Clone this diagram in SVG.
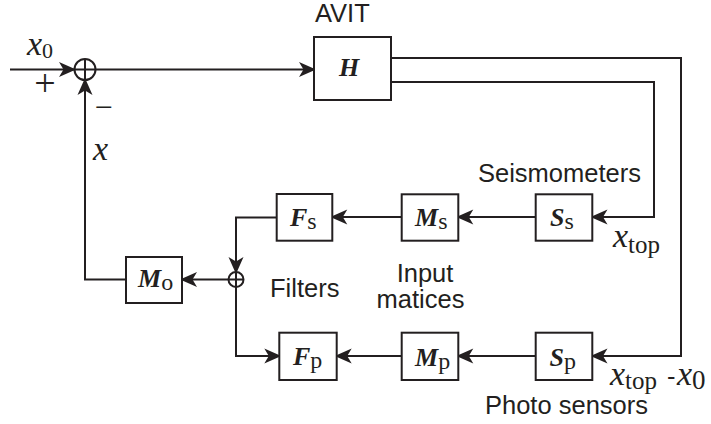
<svg xmlns="http://www.w3.org/2000/svg" width="711" height="424" viewBox="0 0 711 424">
<defs>
<marker id="ah" viewBox="-19 -8 20 16" refX="-2" refY="0" markerWidth="20" markerHeight="16" markerUnits="userSpaceOnUse" orient="auto">
<path d="M0,0 L-17,-7.5 L-12.5,0 L-17,7.5 Z" fill="#231f20"/>
</marker>
<style>
.box{fill:#fff;stroke:#231f20;stroke-width:2}
.ln{fill:none;stroke:#231f20;stroke-width:2}
.arr{fill:none;stroke:#231f20;stroke-width:2;marker-end:url(#ah)}
.sans{font-family:"Liberation Sans",Arial,sans-serif;font-size:25.5px;fill:#231f20}
.ser{font-family:"Liberation Serif","Times New Roman",serif;fill:#231f20}
.bi{font-weight:bold;font-style:italic;font-size:26px}
.sub{font-size:24px}
.it{font-style:italic;font-size:34px}
</style>
</defs>
<rect width="711" height="424" fill="#fff"/>

<g id="connectors">
<path class="arr" d="M10,69.5 H74"/>
<path class="arr" d="M96,69.5 H314"/>
<path class="arr" d="M391,58 H681 V356 H592.5"/>
<path class="arr" d="M391,82 H654 V217 H592.5"/>
<path class="arr" d="M535.7,217 H458.3"/>
<path class="arr" d="M401.7,217 H332.3"/>
<path class="arr" d="M276.7,217.5 H236 V272"/>
<path class="arr" d="M228.5,279.5 H182"/>
<path class="arr" d="M126,279.5 H85 V80"/>
<path class="arr" d="M236,287 V356 H279.3"/>
<path class="arr" d="M535.7,356 H458.3"/>
<path class="arr" d="M401.7,356 H336.7"/>
</g>

<g id="sum1">
<circle class="ln" cx="85" cy="69.5" r="10.5"/>
<path class="ln" d="M74.5,69.5 H95.5 M85,59 V80"/>
</g>
<g id="sum2">
<circle class="ln" cx="236" cy="279.5" r="7.5"/>
<path class="ln" d="M228.5,279.5 H243.5 M236,272 V287"/>
</g>

<g id="H">
<rect class="box" x="314" y="37" width="77" height="63"/>
<text class="ser bi" x="339" y="76" font-size="27">H</text>
</g>
<g id="Ss">
<rect class="box" x="535.7" y="194.3" width="56.6" height="46.4"/>
<text class="ser" x="550" y="225.5"><tspan class="bi">S</tspan><tspan class="sub" dy="3.5">s</tspan></text>
</g>
<g id="Ms">
<rect class="box" x="401.7" y="194.3" width="56.6" height="46.4"/>
<text class="ser" x="415" y="225.5"><tspan class="bi">M</tspan><tspan class="sub" dy="3.5">s</tspan></text>
</g>
<g id="Fs">
<rect class="box" x="276.7" y="194" width="55.6" height="46.7"/>
<text class="ser" x="290" y="225.5"><tspan class="bi">F</tspan><tspan class="sub" dy="3.5">s</tspan></text>
</g>
<g id="Mo">
<rect class="box" x="126" y="257" width="56" height="46"/>
<text class="ser" x="138" y="286.5"><tspan class="bi">M</tspan><tspan class="sub" dy="3">o</tspan></text>
</g>
<g id="Fp">
<rect class="box" x="279.3" y="332.7" width="57.4" height="47.3"/>
<text class="ser" x="293" y="365"><tspan class="bi">F</tspan><tspan class="sub" dy="3">p</tspan></text>
</g>
<g id="Mp">
<rect class="box" x="401.7" y="332.7" width="56.6" height="47.3"/>
<text class="ser" x="415" y="365.5"><tspan class="bi">M</tspan><tspan class="sub" dy="3">p</tspan></text>
</g>
<g id="Sp">
<rect class="box" x="535.7" y="332.7" width="56.6" height="47.3"/>
<text class="ser" x="549.5" y="365.5"><tspan class="bi">S</tspan><tspan class="sub" dy="3">p</tspan></text>
</g>

<g id="labels">
<text class="sans" x="315" y="22" font-size="24">AVIT</text>
<text class="ser" x="27" y="55"><tspan class="it">x</tspan><tspan font-size="22" dy="3">0</tspan></text>
<text class="ser" x="45" y="95.5" font-size="38" text-anchor="middle">+</text>
<text class="ser" x="103.5" y="118" font-size="32" text-anchor="middle">−</text>
<text class="ser it" x="93" y="160">x</text>
<text class="sans" x="478" y="182">Seismometers</text>
<text class="ser" x="613" y="247"><tspan class="it">x</tspan><tspan font-size="25" dy="6">top</tspan></text>
<text class="sans" x="270" y="296.7">Filters</text>
<text class="sans" x="425" y="281.7" text-anchor="middle">Input</text>
<text class="sans" x="420.5" y="308.3" text-anchor="middle">matices</text>
<text class="ser" x="610" y="385"><tspan class="it">x</tspan><tspan font-size="25" dy="4">top</tspan></text>
<text class="sans" x="667" y="385">-</text>
<text class="ser" x="677" y="385"><tspan class="it">x</tspan><tspan font-size="27" dy="4">0</tspan></text>
<text class="sans" x="485" y="414">Photo sensors</text>
</g>
</svg>
